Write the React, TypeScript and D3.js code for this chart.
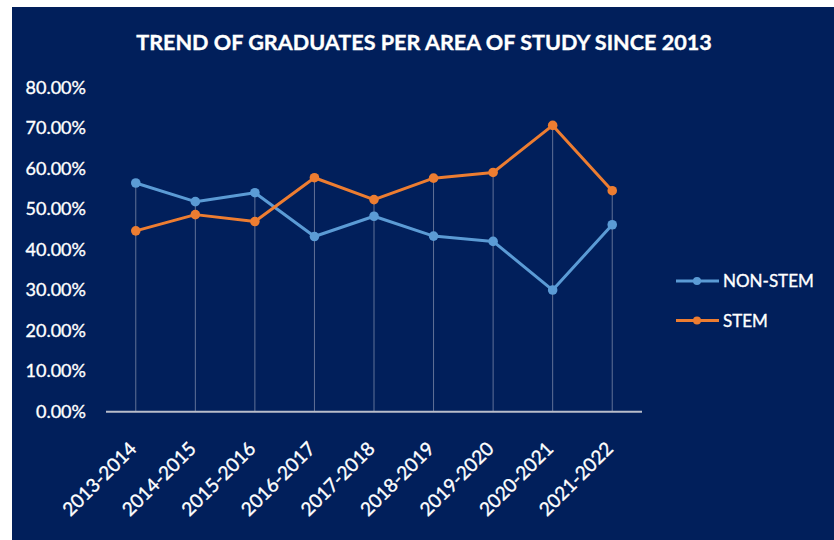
import React from "react";
import * as d3 from "d3";

const categories = ["2013-2014","2014-2015","2015-2016","2016-2017","2017-2018","2018-2019","2019-2020","2020-2021","2021-2022"];
const nonStem = [56.4, 51.8, 54.0, 43.2, 48.2, 43.3, 42.0, 30.0, 46.1];
const stem = [44.6, 48.6, 46.9, 57.7, 52.3, 57.6, 59.0, 70.6, 54.5];
const yTicks = [0, 10, 20, 30, 40, 50, 60, 70, 80];
const seriesNames = ["NON-STEM", "STEM"];
const seriesColors = ["#5b9bd5", "#ed7d31"];

const W = 834, H = 540;
const BG = "#011f5b";
const FONT = "Lato, 'Open Sans', sans-serif";

export default function App() {
  const x = d3.scaleBand<string>().domain(categories).range([106, 642]);
  const y = d3.scaleLinear().domain([0, 80]).range([411.7, 87.3]);
  const cx = (c: string) => (x(c) as number) + x.bandwidth() / 2;
  const line = d3.line<number>().x((_, i) => cx(categories[i])).y(d => y(d));
  const series = [nonStem, stem];
  const textStyle = { fill: "#fff", stroke: "#fff", strokeWidth: 0.35, fontFamily: FONT } as const;

  return (
    <div style={{ position: "absolute", left: 0, top: 0, width: W, height: H, background: "#fff" }}>
      <svg width={W} height={H} style={{ display: "block" }}>
        <rect x={12} y={7} width={W - 12} height={H - 7} fill={BG} />
        <text x={424} y={49.5} textAnchor="middle" {...textStyle} fontWeight="bold" fontSize={21.6}>
          TREND OF GRADUATES PER AREA OF STUDY SINCE 2013
        </text>
        {yTicks.map(t => (
          <text key={t} x={86} y={y(t)} dy="0.35em" textAnchor="end" {...textStyle} fontSize={18}>
            {t.toFixed(2)}%
          </text>
        ))}
        {categories.map((c, i) => (
          <line key={c} x1={cx(c)} x2={cx(c)} y1={y(Math.max(nonStem[i], stem[i]))} y2={y(0)} stroke="#8a94b0" strokeOpacity={0.7} strokeWidth={1} />
        ))}
        <line x1={106} x2={642} y1={y(0)} y2={y(0)} stroke="#b8bdca" strokeWidth={2} />
        {categories.map(c => (
          <text key={c} transform={`translate(${cx(c) + 2},${450}) rotate(-45)`} textAnchor="end" {...textStyle} fontSize={19}>
            {c}
          </text>
        ))}
        {series.map((s, k) => (
          <g key={k}>
            <path d={line(s) as string} fill="none" stroke={seriesColors[k]} strokeWidth={3} strokeLinejoin="round" />
            {s.map((v, i) => (
              <circle key={i} cx={cx(categories[i])} cy={y(v)} r={4.8} fill={seriesColors[k]} />
            ))}
          </g>
        ))}
        {seriesNames.map((n, k) => {
          const ly = 281 + k * 39.5;
          return (
            <g key={n}>
              <line x1={676} x2={719} y1={ly} y2={ly} stroke={seriesColors[k]} strokeWidth={3} />
              <circle cx={697} cy={ly} r={4} fill={seriesColors[k]} />
              <text x={723} y={ly} dy="0.36em" {...textStyle} fontSize={17}>{n}</text>
            </g>
          );
        })}
      </svg>
    </div>
  );
}
